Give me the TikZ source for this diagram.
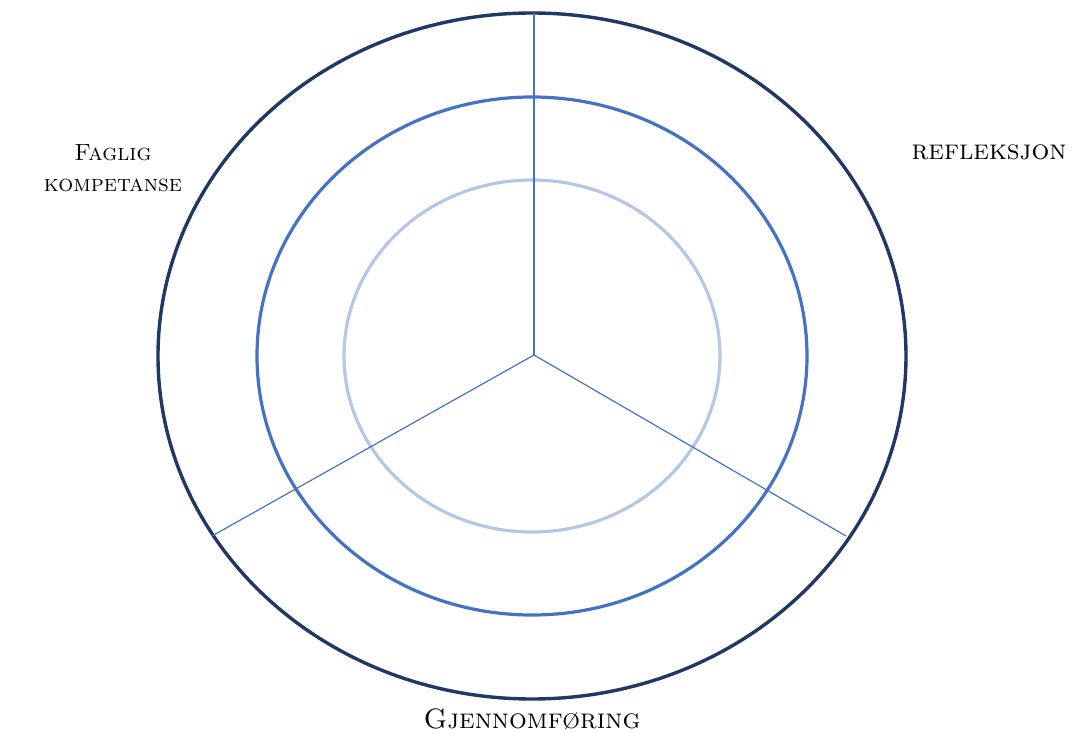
\documentclass[tikz,border=0pt]{standalone}
\usepackage{tikz}
\usepackage{xcolor}
\definecolor{ringdark}{HTML}{203864}
\definecolor{ringmid}{HTML}{4472C4}
\definecolor{ringlight}{HTML}{B4C7E7}

\begin{document}
\begin{tikzpicture}[x=1pt,y=-1pt]
\tikzset{lbl/.style={font=\fontsize{28}{32}\selectfont\scshape,align=center}}
\useasboundingbox (0,0) rectangle (1072,733);
\coordinate (c) at (532,356);
\draw[ringdark,line width=3.4pt] (c) ellipse [x radius=374, y radius=343];
\draw[ringmid,line width=3.2pt] (c) ellipse [x radius=275, y radius=259];
\draw[ringlight,line width=3.2pt] (c) ellipse [x radius=188, y radius=176];
\draw[ringmid,line width=1.2pt] (534,355) -- (534,13);
\draw[ringmid,line width=1.2pt] (534,355) -- (212,536);
\draw[ringmid,line width=1.2pt] (534,355) -- (846,536);
\node[lbl,font=\fontsize{23.5}{31}\selectfont\scshape] (fag) at (113,168) {Faglig\\kompetanse};
\node[lbl] (refl) at (989,152) {refleksjon};
\node[lbl] (gjen) at (532,719) {Gjennomføring};
\end{tikzpicture}
\end{document}
